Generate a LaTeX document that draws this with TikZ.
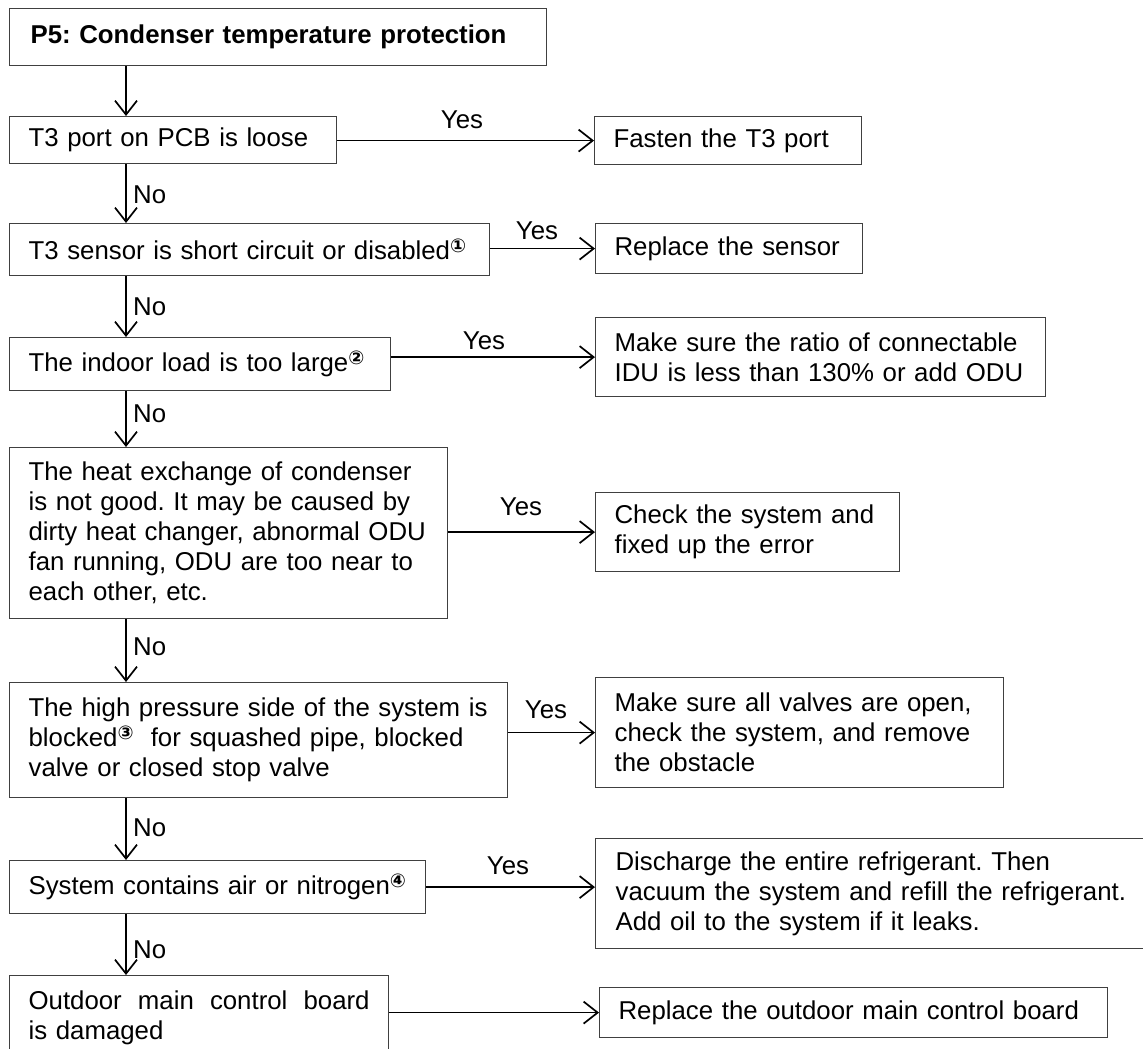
\documentclass[tikz,border=0pt]{standalone}
\usepackage{fontspec}
\setmainfont{Liberation Sans}
\newfontfamily\circfont{DejaVu Sans}
\usetikzlibrary{arrows.meta}
\newcommand{\cnum}[1]{\raisebox{7pt}{\fontsize{19}{19}\selectfont\circfont\bfseries #1}}
\frenchspacing
\begin{document}
\begin{tikzpicture}[x=1pt,y=-1pt,
  every node/.style={font=\fontsize{25.8}{30}\selectfont\frenchspacing},
  box/.style={draw=black!75, line width=1.2pt, rectangle, anchor=north west,
    inner xsep=19pt, inner ysep=0pt, align=left},
  arr/.style={-{Straight Barb[length=14pt,width=22pt]}, line width=1.7pt},
  lbl/.style={inner sep=0pt}]
\useasboundingbox (0,0) rectangle (1143,1049);
\clip (0,0) rectangle (1143,1049);
\coordinate (colx) at (126,0);

% title
\node[box, inner xsep=21pt, text width=495pt, minimum height=57pt] (T) at (9,8)
  {\mbox{\bfseries P5: Condenser temperature protection}};

% left column
\node[box, text width=289pt, minimum height=47pt] (A) at (9,116)
  {\mbox{T3 port on PCB is loose}};
\node[box, text width=442pt, minimum height=52pt] (B) at (9,223)
  {\mbox{T3 sensor is short circuit or disabled\cnum{①}}};
\node[box, text width=343pt, minimum height=53pt] (C) at (9,337)
  {\mbox{The indoor load is too large\cnum{②}}};
\node[box, text width=400pt, minimum height=171pt] (D) at (9,447)
  {\mbox{The heat exchange of condenser}\\\mbox{is not good. It may be caused by}\\\mbox{dirty heat changer, abnormal ODU}\\\mbox{fan running, ODU are too near to}\\\mbox{each other, etc.}};
\node[box, text width=460pt, minimum height=115pt] (E) at (9,682)
  {\mbox{The high pressure side of the system is}\\\mbox{blocked\cnum{③}\ \ for squashed pipe, blocked}\\\mbox{valve or closed stop valve}};
\node[box, text width=378pt, minimum height=53pt] (F) at (9,860)
  {\mbox{System contains air or nitrogen\cnum{④}}};
\node[box, text width=341pt, minimum height=85pt] (G) at (9,975)
  {\hbox to 341pt{Outdoor\hfil main\hfil control\hfil board}\\\mbox{is damaged}};

% right column
\node[box, text width=229pt, minimum height=48pt] (RA) at (594,116)
  {\mbox{Fasten the T3 port}};
\node[box, text width=229pt, minimum height=50pt] (RB) at (595,223)
  {\mbox{Replace the sensor}};
\node[box, text width=412pt, minimum height=79pt] (RC) at (595,317)
  {\mbox{Make sure the ratio of connectable}\\\mbox{IDU is less than 130\% or add ODU}};
\node[box, text width=266pt, minimum height=79pt] (RD) at (595,492)
  {\mbox{Check the system and}\\\mbox{fixed up the error}};
\node[box, text width=370pt, minimum height=110pt] (RE) at (595,677)
  {\mbox{Make sure all valves are open,}\\\mbox{check the system, and remove}\\\mbox{the obstacle}};
\node[box, inner xsep=20pt, text width=520pt, minimum height=110pt] (RF) at (595,838)
  {\mbox{Discharge the entire refrigerant. Then}\\\mbox{vacuum the system and refill the refrigerant.}\\\mbox{Add oil to the system if it leaks.}};
\node[box, text width=470pt, minimum height=50pt] (RG) at (599,987)
  {\mbox{Replace the outdoor main control board}};

% vertical "No" arrows
\draw[arr] (T.south -| colx) -- (A.north -| colx);
\draw[arr] (A.south -| colx) -- (B.north -| colx);
\draw[arr] (B.south -| colx) -- (C.north -| colx);
\draw[arr] (C.south -| colx) -- (D.north -| colx);
\draw[arr] (D.south -| colx) -- (E.north -| colx);
\draw[arr] (E.south -| colx) -- (F.north -| colx);
\draw[arr] (F.south -| colx) -- (G.north -| colx);

\node[lbl, anchor=west] (nA) at (133,195) {No};
\node[lbl, anchor=west] (nB) at (133,307) {No};
\node[lbl, anchor=west] (nC) at (133,414) {No};
\node[lbl, anchor=west] (nD) at (133,647) {No};
\node[lbl, anchor=west] (nE) at (133,828) {No};
\node[lbl, anchor=west] (nF) at (133,950) {No};

% horizontal "Yes" arrows
\draw[arr] (A.east |- RA.west) -- (RA.west);
\draw[arr] (B.east |- RB.west) -- (RB.west);
\draw[arr] (C.east |- RC.west) -- (RC.west);
\draw[arr] (D.east |- RD.west) -- (RD.west);
\draw[arr] (E.east |- RE.west) -- (RE.west);
\draw[arr] (F.east) -- (F.east -| RF.west);
\draw[arr] (G.east |- RG.west) -- (RG.west);

\node[lbl] (yA) at (462,120) {Yes};
\node[lbl] (yB) at (537,231) {Yes};
\node[lbl] (yC) at (484,341) {Yes};
\node[lbl] (yD) at (521,507) {Yes};
\node[lbl] (yE) at (546,710) {Yes};
\node[lbl] (yF) at (508,866) {Yes};
\end{tikzpicture}
\end{document}
